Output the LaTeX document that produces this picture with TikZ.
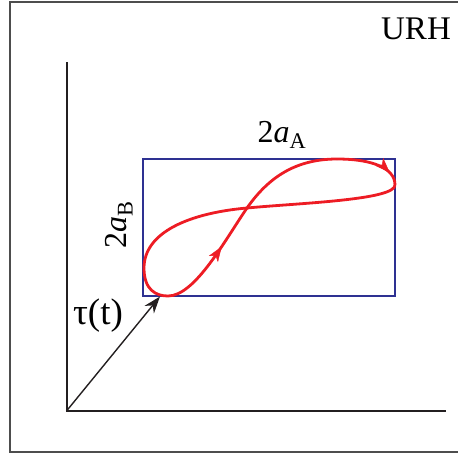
\documentclass[tikz,border=0pt]{standalone}
\usepackage{fontspec}
\setmainfont{Liberation Serif}
\usetikzlibrary{arrows.meta,decorations.markings}
\definecolor{navy}{HTML}{2E3192}
\definecolor{curvered}{HTML}{ED1C24}
\definecolor{axisgray}{HTML}{231F20}
\definecolor{framegray}{HTML}{4D4D4D}
\tikzset{
  frameline/.style={draw=framegray,line width=2.4pt},
  axisline/.style={draw=axisgray,line width=2pt},
  boxline/.style={draw=navy,line width=2.8pt},
  redline/.style={draw=curvered,line width=2.8pt},
  redarrow/.style={postaction={decorate,decoration={markings,mark=at position #1 with {\arrow[curvered,line width=0.4pt]{Stealth[length=15pt,width=11pt,inset=4pt]}}}}},
  lbl/.style={inner sep=0pt,font=\fontsize{32}{36}\selectfont}
}
\begin{document}
\begin{tikzpicture}[x=1pt,y=-1pt]
\useasboundingbox (0,0) rectangle (458,459);
% frame
\draw[frameline] (458,2) -- (10,2) -- (10,452) -- (458,452);
% axes
\coordinate (O) at (66.5,411);
\coordinate (ytop) at (66.5,62);
\coordinate (xend) at (446,411);
\draw[axisline] (ytop) -- (O) -- (xend);
% rectangle
\coordinate (r1) at (143,159);
\coordinate (r2) at (395,296);
\draw[boxline] (r1) rectangle (r2);
% curve points
\coordinate (A) at (168,296);
\coordinate (C) at (247,208);
\coordinate (T) at (337,159);
\coordinate (R) at (395,185);
\coordinate (L) at (144,268);
\draw[redline,redarrow=0.62] (A) .. controls (195,296) and (225,240) .. (C);
\draw[redline] (C) .. controls (268,178) and (295,159) .. (T);
\draw[redline,redarrow=0.8] (T) .. controls (372,159) and (395,168) .. (R);
\draw[redline] (R) .. controls (395,200) and (300,203) .. (C);
\draw[redline] (C) .. controls (190,213) and (144,232) .. (L);
\draw[redline] (L) .. controls (144,290) and (156,296) .. (A);
% tau arrow
\coordinate (tip) at (160,296.5);
\draw[draw=axisgray,line width=1.4pt,-{Stealth[length=17pt,width=12pt]}] (O) -- (tip);
% labels
\node[lbl,font=\fontsize{33}{36}\selectfont] (urh) at (416,29) {URH};
\node[lbl] (aA) at (282,135) {2\textit{a}\textsubscript{A}};
\node[lbl,rotate=90] (aB) at (119,225) {2\textit{a}\textsubscript{B}};
\node[lbl,font=\fontsize{37}{40}\selectfont] (tau) at (98,316) {τ(t)};
\end{tikzpicture}
\end{document}
